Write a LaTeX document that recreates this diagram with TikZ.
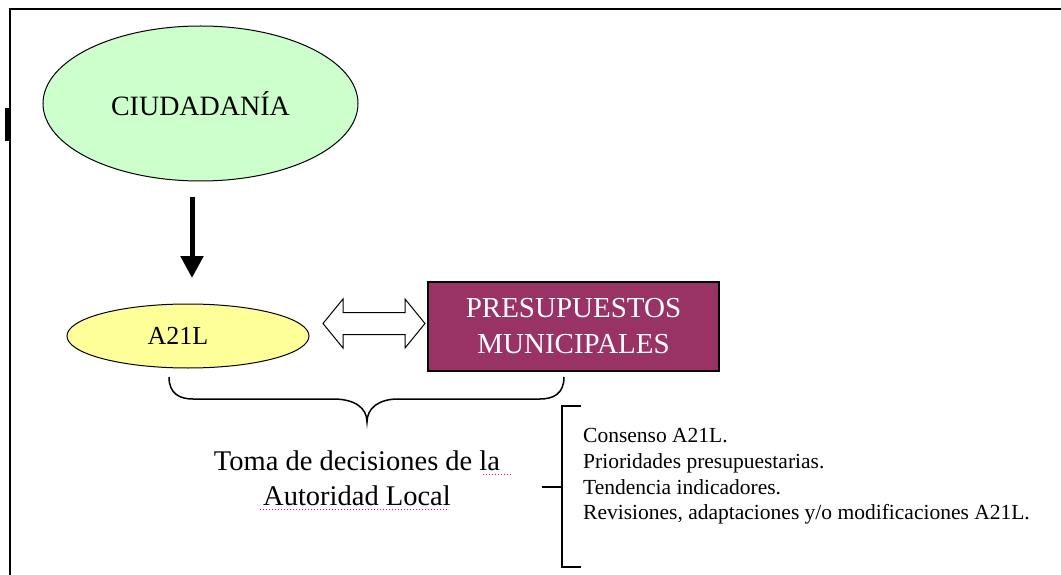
\documentclass[tikz,border=0pt]{standalone}
\usepackage{fontspec}
\setmainfont{Liberation Serif}
\usetikzlibrary{shapes.geometric,arrows.meta}
\definecolor{citizen}{HTML}{CCFFCC}
\definecolor{agenda}{HTML}{FFFF99}
\definecolor{budget}{HTML}{993366}
\newcommand\fsz[2]{\fontsize{#1}{#2}\selectfont}
\tikzstyle{bubble} = [draw,ellipse,inner sep=0pt,line width=1pt]
\tikzstyle{budgetbox} = [draw,fill=budget,text=white,align=center,inner sep=0pt,line width=1.5pt,minimum width=291,minimum height=89]
\tikzstyle{frameline} = [line width=1.5pt]
\tikzstyle{downflow} = [line width=5pt,-{Triangle[length=22pt,width=22pt]}]
\tikzstyle{brk} = [line width=1.5pt]

\begin{document}
\begin{tikzpicture}[x=1pt,y=-1pt]
\useasboundingbox (0,0) rectangle (1061,575);

% page frame
\draw[frameline] (10,575) -- (10,9) -- (1061,9);
\fill (5,108) rectangle (9,141);

\node[bubble,fill=citizen,minimum width=315,minimum height=155,font=\fsz{28}{34}] (ciud) at (200.5,103.5) {CIUDADAN\'IA};
\node[bubble,fill=agenda,minimum width=242,minimum height=64,font=\fsz{26}{30}] (a21l) at (188,336) {A21L\hspace*{20pt}};
\node[budgetbox,font=\fsz{29}{36}] (pres) at (573.5,326.5) {PRESUPUESTOS\\MUNICIPALES};

\coordinate (dtop) at (192,197);
\coordinate (dbot) at (192,278);
\draw[downflow] (dtop) -- (dbot);

% two-way link
\coordinate (dl) at (323,323.5);
\draw[line width=1pt,fill=white] (dl) -- ++(20,-24.5) -- ++(0,13.5) -- ++(62,0) -- ++(0,-13.5) -- ++(20,24.5) -- ++(-20,24.5) -- ++(0,-13.5) -- ++(-62,0) -- ++(0,13.5) -- cycle;

% brace under both
\coordinate (bl) at (169,377);
\coordinate (br) at (564,377);
\coordinate (bt) at (367,422);
\draw[brk] (bl) .. controls (169,394) and (180,399) .. (193,399) -- (333,399) .. controls (355,399) and (367,408) .. (bt) .. controls (367,408) and (379,399) .. (398,399) -- (540,399) .. controls (553,399) and (564,394) .. (br);

\node[anchor=north,align=center,inner sep=0pt,font=\fsz{28.5}{35}] (toma) at (357,451) {Toma de decisiones de la\\Autoridad Local};
\draw[magenta,dotted,line width=1pt] (483,474) -- (512,474);
\draw[magenta,dotted,line width=1pt] (260,509) -- (448,509);

% bracket with list
\coordinate (kt) at (562,406);
\coordinate (kb) at (562,567);
\coordinate (km) at (562,487);
\draw[brk] (581,406) -- (kt) -- (kb) -- (581,567);
\draw[brk] (542,487) -- (km);
\node[anchor=north west,align=left,inner sep=0pt,font=\fsz{21.5}{25.8}] (list) at (583,428) {Consenso A21L.\\Prioridades presupuestarias.\\Tendencia indicadores.\\Revisiones, adaptaciones y/o modificaciones A21L.};

\end{tikzpicture}
\end{document}
